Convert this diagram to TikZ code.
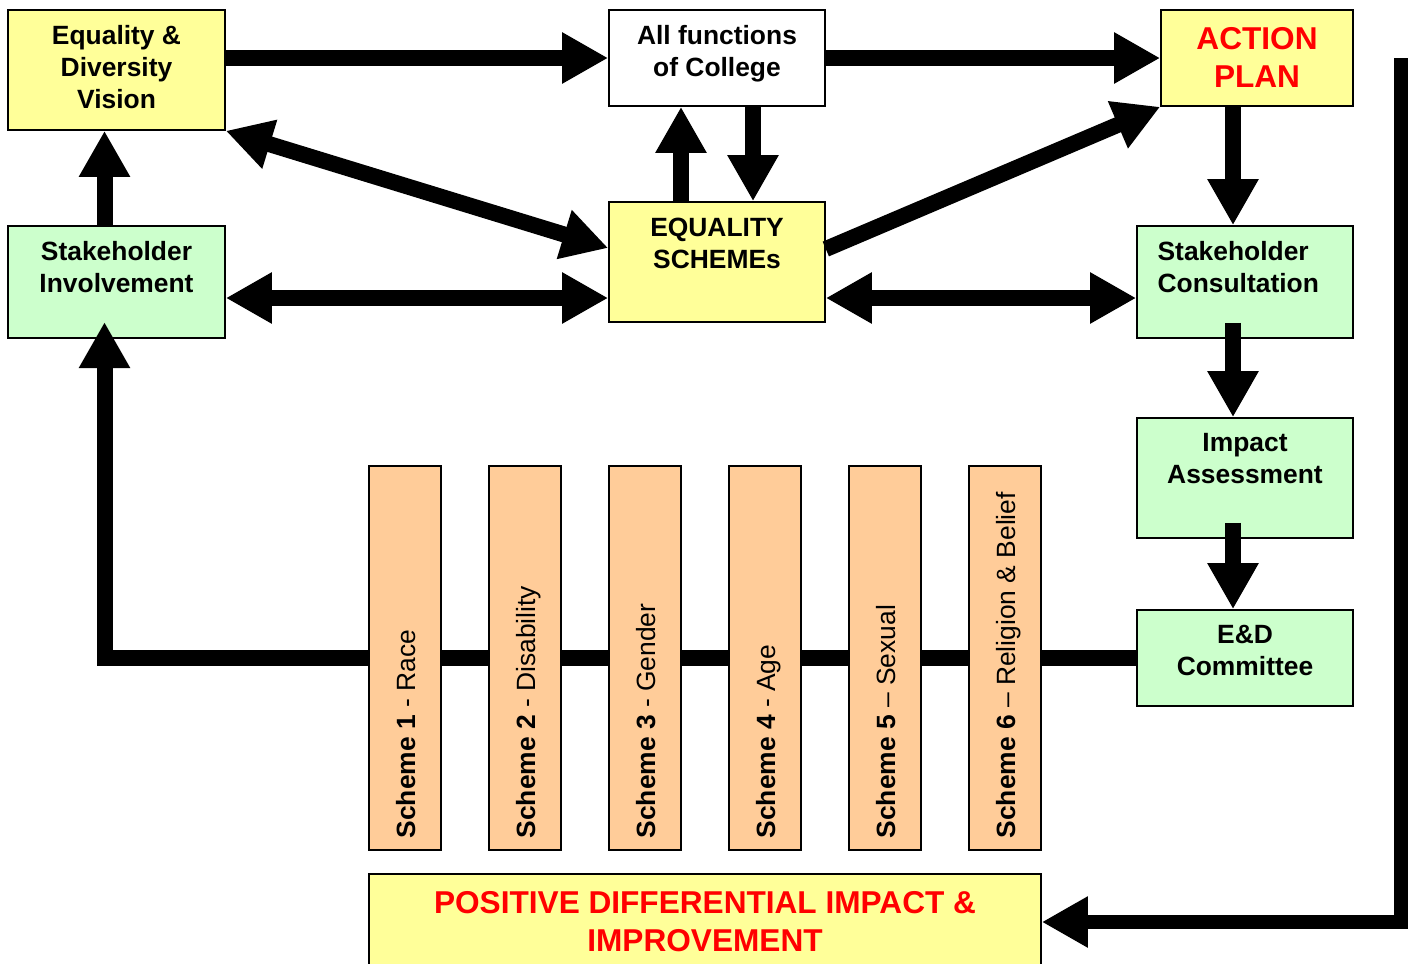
\documentclass[tikz,border=0pt]{standalone}
\usepackage{fontspec}
\setmainfont{Liberation Sans}
\usetikzlibrary{positioning,arrows.meta}
\definecolor{boxyellow}{HTML}{FFFF99}
\definecolor{boxgreen}{HTML}{CCFFCC}
\definecolor{boxorange}{HTML}{FFCC99}
\tikzset{box node/.style={draw, line width=0.8pt, inner sep=0pt},
  yellow node/.style={box node, fill=boxyellow},
  green node/.style={box node, fill=boxgreen},
  scheme node/.style={box node, fill=boxorange, minimum width=36pt, minimum height=192pt},
  box text/.style={font=\bfseries\fontsize{13.2}{16}\selectfont, align=center, inner sep=0pt},
  red text/.style={font=\bfseries\fontsize{15.8}{18.7}\selectfont, align=center, inner sep=0pt, text=red},
  scheme text/.style={font=\fontsize{13.2}{16}\selectfont, rotate=90, anchor=base west, inner sep=0pt},
  fat arrow/.style={line width=8pt, -{Triangle[length=23pt,width=24pt]}},
  fat both/.style={line width=8pt, {Triangle[length=23pt,width=24pt]}-{Triangle[length=23pt,width=24pt]}},}

\begin{document}
\begin{tikzpicture}[x=0.5pt, y=-0.5pt]
        \clip (0,0) rectangle (1414,964);
        % Nodes
        \node[yellow node, minimum width=108.5pt, minimum height=60pt] (edv) at (116.5,70) {};
        \node[box text, below=8pt of edv.north] (edvtxt) {Equality \&\\Diversity\\Vision};
        \node[box node, fill=white, minimum width=108pt, minimum height=48pt] (allf) at (717,58) {};
        \node[box text, below=8pt of allf.north] (allftxt) {All functions\\of College};
        \node[yellow node, minimum width=96pt, minimum height=48pt] (plan) at (1257,58) {};
        \node[red text, below=9pt of plan.north] (plantxt) {ACTION\\PLAN};
        \node[green node, minimum width=108.5pt, minimum height=56pt] (shinv) at (116.5,282) {};
        \node[box text, below=8pt of shinv.north] (shinvtxt) {Stakeholder\\Involvement};
        \node[yellow node, minimum width=108pt, minimum height=60pt] (eqs) at (717,262) {};
        \node[box text, below=8pt of eqs.north] (eqstxt) {EQUALITY\\SCHEMEs};
        \node[green node, minimum width=108pt, minimum height=56pt] (shcons) at (1245,282) {};
        \node[box text, align=left, anchor=north west, below right=8pt and 10.5pt of shcons.north west] (shconstxt) {Stakeholder\\Consultation};
        \node[green node, minimum width=108pt, minimum height=60pt] (impact) at (1245,478) {};
        \node[box text, below=8pt of impact.north] (impacttxt) {Impact\\Assessment};
        \node[green node, minimum width=108pt, minimum height=48pt] (edcomm) at (1245,658) {};
        \node[box text, below=8pt of edcomm.north] (edcommtxt) {E\&D\\Committee};
        \node[yellow node, minimum width=336pt, minimum height=65pt] (positive) at (705,939) {};
        \node[red text, below=9pt of positive.north] (positivetxt) {POSITIVE DIFFERENTIAL IMPACT \&\\IMPROVEMENT};
        \coordinate (lc) at (104.5,658);
        \coordinate (lt) at (104.5,322);
        \coordinate (rtop) at (1401,58);
        \coordinate (rbot) at (1401,922);
        % Paths
        \draw[fat arrow] (edv.east |- allf.west) -- (allf.west);
        \draw[fat arrow] (allf.east) -- (plan.west);
        \draw[fat both] (edv.south east) -- ([yshift=7pt]eqs.west);
        \draw[fat arrow] ([xshift=-6pt]shinv.north) -- ([xshift=-6pt]edv.south);
        \draw[fat both] ([yshift=-8pt]shinv.east) -- ([yshift=-8pt]shinv.east -| eqs.west);
        \draw[fat arrow] ([xshift=-18pt]eqs.north) -- ([xshift=-18pt]allf.south);
        \draw[fat arrow] ([xshift=18pt]allf.south) -- ([xshift=18pt]eqs.north);
        \draw[fat arrow] ([yshift=6.5pt]eqs.east) -- (plan.south west);
        \draw[fat both] ([yshift=-8pt]shcons.west -| eqs.east) -- ([yshift=-8pt]shcons.west);
        \draw[fat arrow] ([xshift=-12pt]plan.south) -- ([xshift=-12pt]plan.south |- shcons.north);
        \draw[fat arrow] ([xshift=-6pt,yshift=8pt]shcons.south) -- ([xshift=-6pt]impact.north);
        \draw[fat arrow] ([xshift=-6pt,yshift=8pt]impact.south) -- ([xshift=-6pt]edcomm.north);
        \draw[fat arrow, line join=miter] (edcomm.west) -- (lc) -- (lt);
        \draw[fat arrow, line width=7pt, line join=miter] (rtop) -- (rbot) -- (rbot -| positive.east);
        % Schemes
        \node[scheme node] (s1) at (405,658) {};
        \node[scheme text] (s1txt) at ([xshift=5pt,yshift=6pt]s1.south) {\bfseries Scheme 1\mdseries{} - Race};
        \node[scheme node] (s2) at (525,658) {};
        \node[scheme text] (s2txt) at ([xshift=5pt,yshift=6pt]s2.south) {\bfseries Scheme 2\mdseries{} - Disability};
        \node[scheme node] (s3) at (645,658) {};
        \node[scheme text] (s3txt) at ([xshift=5pt,yshift=6pt]s3.south) {\bfseries Scheme 3\mdseries{} - Gender};
        \node[scheme node] (s4) at (765,658) {};
        \node[scheme text] (s4txt) at ([xshift=5pt,yshift=6pt]s4.south) {\bfseries Scheme 4\mdseries{} - Age};
        \node[scheme node] (s5) at (885,658) {};
        \node[scheme text] (s5txt) at ([xshift=5pt,yshift=6pt]s5.south) {\bfseries Scheme 5\mdseries{} -- Sexual};
        \node[scheme node] (s6) at (1005,658) {};
        \node[scheme text] (s6txt) at ([xshift=5pt,yshift=6pt]s6.south) {\bfseries Scheme 6\mdseries{} -- Religion \& Belief};
    \end{tikzpicture}
\end{document}
